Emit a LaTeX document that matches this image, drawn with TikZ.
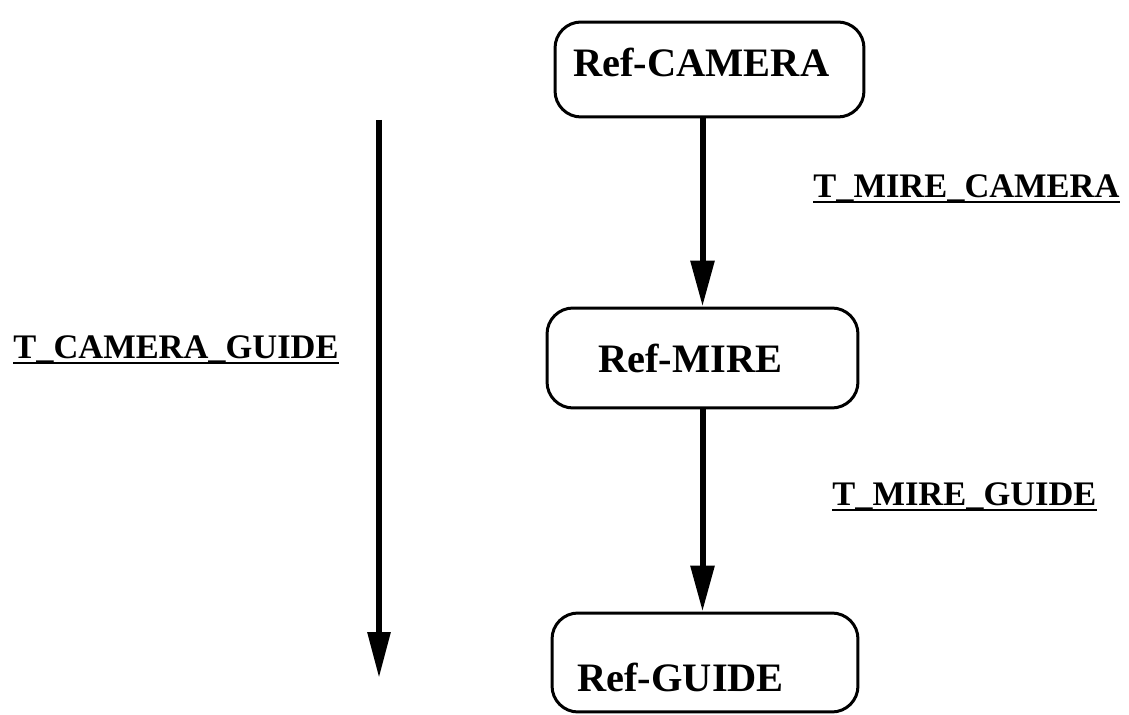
\documentclass[tikz,border=0pt]{standalone}
\usepackage{fontspec}
\setmainfont{Liberation Serif}
\usetikzlibrary{positioning,arrows.meta,calc}

\begin{document}
\begin{tikzpicture}
	[x=0.02cm,y=-0.02cm,
	refbox/.style={draw=black,line width=0.06cm,rounded corners=0.52cm,inner sep=0pt},
	reftxt/.style={anchor=base west,inner sep=0pt,font=\fontsize{23}{23}\selectfont\bfseries},
	tlbl/.style={anchor=base west,inner sep=0pt,font=\fontsize{19.6}{20}\selectfont\bfseries},
	uline/.style={line width=0.055cm},
	tarr/.style={line width=0.12cm,-{Triangle[length=0.92cm,width=0.46cm]}}]
	\useasboundingbox (0,0) rectangle (1129,715);
	%BOXES
	\node[refbox,minimum width=6.18cm,minimum height=1.9cm] (camera) at (709.5,69.5) {};
	\node[refbox,minimum width=6.22cm,minimum height=2.0cm] (mire) at (702.5,358) {};
	\node[refbox,minimum width=6.12cm,minimum height=1.98cm] (guide) at (705,662.5) {};
	\node[reftxt] (cameratxt) at (573,77) {Ref-CAMERA};
	\node[reftxt] (miretxt) at (598,373) {Ref-MIRE};
	\node[reftxt] (guidetxt) at (577,691) {Ref-GUIDE};
	%ARROWS
	\draw[tarr] (camera.south -| mire.north) -- (mire.north);
	\draw[tarr] (mire.south) -- (mire.south |- guide.north);
	\coordinate (ltop) at (379,120);
	\coordinate (lbot) at (379,678);
	\draw[tarr,-{Triangle[length=0.92cm,width=0.44cm]}] (ltop) -- (lbot);
	%LABELS
	\node[tlbl] (tmc) at (813,198) {T\_MIRE\_CAMERA};
	\node[tlbl] (tcg) at (13,359) {T\_CAMERA\_GUIDE};
	\node[tlbl] (tmg) at (832,506) {T\_MIRE\_GUIDE};
	\foreach \l in {tmc,tcg,tmg}
	\draw[uline] ($(\l.base west)+(0,4)$) -- ($(\l.base east)+(0,4)$);
\end{tikzpicture}
\end{document}
